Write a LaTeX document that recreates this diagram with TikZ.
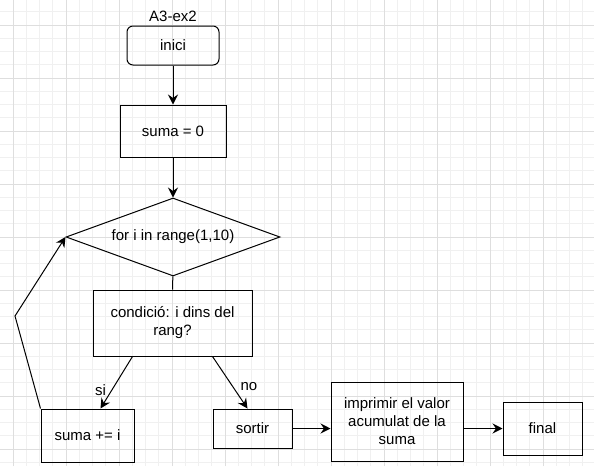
\documentclass[tikz,border=0pt]{standalone}
\usepackage{fontspec}
\setmainfont{Liberation Sans}
\usetikzlibrary{arrows.meta,shapes.geometric,positioning}

\begin{document}
\begin{tikzpicture}[
x=1pt,y=-1pt,
font=\fontsize{15}{18}\selectfont,
flow/.style={-{Stealth[length=10pt,width=10pt,inset=3.5pt]},line width=1pt},
block/.style={draw,line width=1pt,align=center,inner sep=2pt},
startbox/.style={block,rounded corners=6pt},
decision/.style={draw,diamond,line width=1pt,aspect=2.74,inner sep=0pt},
gridminor/.style={color=black!6,line width=0.8pt},
gridmajor/.style={color=black!13,line width=0.8pt}]
    % background grid
    \useasboundingbox (0,0) rectangle (594,466);
    \fill[white] (0,0) rectangle (594,466);
    \begin{scope}[shift={(13,25)}]
      \draw[gridminor,step=13.25pt] (-13,441) grid (581,-25);
      \draw[gridmajor,step=53pt] (-13,441) grid (581,-25);
    \end{scope}

    % boxes
    \node (title) at (173,16.5) {A3-ex2};
    \node[startbox,minimum width=92pt,minimum height=39pt] (inici) at (173,45.5) {inici};
    \node[block,minimum width=106pt,minimum height=52pt] (suma0) at (173,131) {suma = 0};
    \node[decision,minimum width=214pt,minimum height=78pt] (for) at (173,237) {for i in range(1,10)};
    \node[block,minimum width=159pt,minimum height=66pt] (cond) at (172.5,323) {condició: i dins del\\rang?};
    \node[block,minimum width=93pt,minimum height=53pt] (sumai) at (87.5,435.5) {suma += i};
    \node[block,minimum width=79pt,minimum height=39pt] (sortir) at (252.5,428.5) {sortir};
    \node[block,minimum width=132pt,minimum height=79pt] (imprimir) at (397,421.5) {imprimir el valor\\acumulat de la\\suma};
    \node[block,minimum width=79pt,minimum height=53pt] (final) at (542.5,428.5) {final};
    \coordinate (bend) at (15,316);

    % arrows
    \draw[flow] (inici) -- (suma0);
    \draw[flow] (suma0) -- (for);
    \draw[line width=1pt] (for) -- (cond);
    \draw[flow] ([xshift=40pt]cond.south west) -- ([xshift=60pt]sumai.north west) node[pos=0.65,left=2pt] {si};
    \draw[flow] ([xshift=120pt]cond.south west) -- ([xshift=35pt]sortir.north west) node[pos=0.58,right=4pt] {no};
    \draw[flow] (sumai.north west) -- (bend) -- (for.west);
    \draw[flow] (sortir.east) -- (sortir.east -| imprimir.west);
    \draw[flow] (final.west -| imprimir.east) -- (final.west);

\end{tikzpicture}
\end{document}
